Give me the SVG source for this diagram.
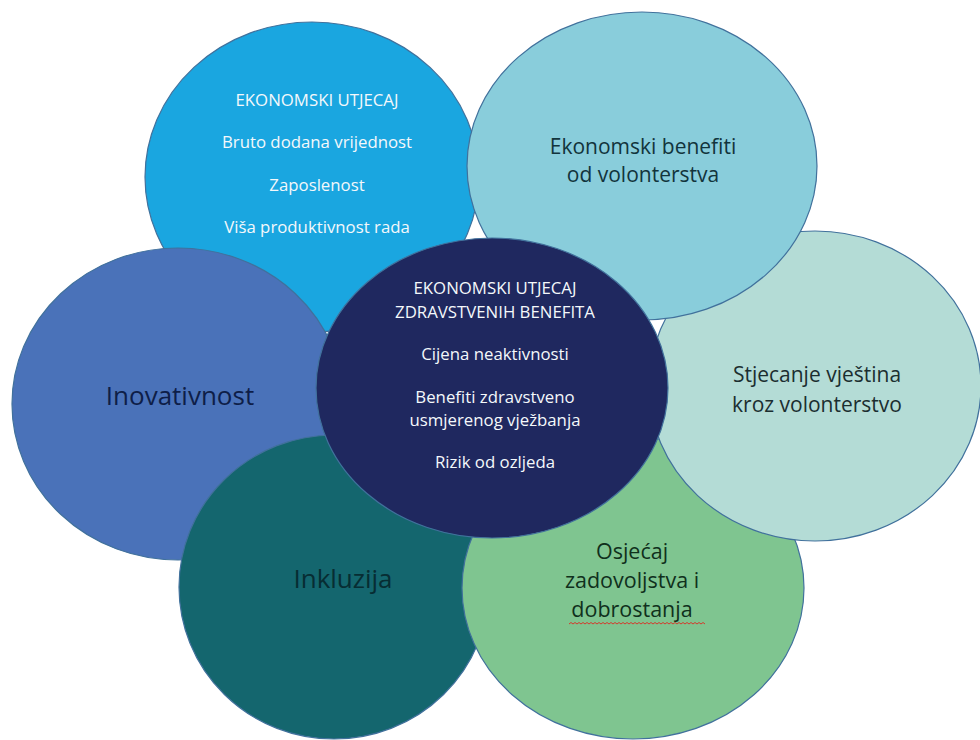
<svg xmlns="http://www.w3.org/2000/svg" width="980" height="740" viewBox="0 0 980 740">
<style>
.c{stroke:#41719C;stroke-width:1.2}
.w{font-family:"Open Sans","Noto Sans","Liberation Sans",sans-serif;font-size:16.8px;fill:#F4F8FB;text-anchor:middle}
.d{font-family:"Open Sans","Noto Sans","Liberation Sans",sans-serif;text-anchor:middle}
</style>
<rect width="980" height="740" fill="#FFFFFF"/>
<g id="ekonomski-utjecaj">
<ellipse class="c" cx="312" cy="177" rx="167" ry="155" fill="#1AA6E0"/>
<text class="w" x="317" y="106">EKONOMSKI UTJECAJ</text>
<text class="w" x="317" y="148">Bruto dodana vrijednost</text>
<text class="w" x="317" y="191">Zaposlenost</text>
<text class="w" x="317" y="233">Viša produktivnost rada</text>
</g>
<g id="inovativnost">
<ellipse class="c" cx="178" cy="404" rx="166" ry="156" fill="#4A72B9"/>
<text class="d" x="180" y="405" font-size="26" fill="#0E1E48">Inovativnost</text>
</g>
<g id="inkluzija">
<ellipse class="c" cx="334" cy="587" rx="155" ry="152" fill="#14666E"/>
<text class="d" x="343" y="588" font-size="26" fill="#072D33">Inkluzija</text>
</g>
<g id="osjecaj">
<ellipse class="c" cx="633" cy="588" rx="171" ry="151" fill="#7FC590"/>
<text class="d" x="632" y="559" font-size="21.5" fill="#10301C">Osjećaj</text>
<text class="d" x="632" y="588" font-size="21.5" fill="#10301C">zadovoljstva i</text>
<text class="d" x="632" y="617" font-size="21.5" fill="#10301C">dobrostanja</text>
<path d="M569 624 l2 -1.5 2 1.5 2 -1.5 2 1.5 2 -1.5 2 1.5 2 -1.5 2 1.5 2 -1.5 2 1.5 2 -1.5 2 1.5 2 -1.5 2 1.5 2 -1.5 2 1.5 2 -1.5 2 1.5 2 -1.5 2 1.5 2 -1.5 2 1.5 2 -1.5 2 1.5 2 -1.5 2 1.5 2 -1.5 2 1.5 2 -1.5 2 1.5 2 -1.5 2 1.5 2 -1.5 2 1.5 2 -1.5 2 1.5 2 -1.5 2 1.5 2 -1.5 2 1.5 2 -1.5 2 1.5 2 -1.5 2 1.5 2 -1.5 2 1.5 2 -1.5 2 1.5 2 -1.5 2 1.5 2 -1.5 2 1.5 2 -1.5 2 1.5 2 -1.5 2 1.5 2 -1.5 2 1.5 2 -1.5 2 1.5 2 -1.5 2 1.5 2 -1.5 2 1.5 2 -1.5 2 1.5 2 -1.5 2 1.5" fill="none" stroke="#D33A2C" stroke-width="1"/>
</g>
<g id="stjecanje">
<ellipse class="c" cx="815" cy="386" rx="166" ry="155" fill="#B4DCD6"/>
<text class="d" x="817" y="382" font-size="21" fill="#1B2E30">Stjecanje vještina</text>
<text class="d" x="817" y="412" font-size="21" fill="#1B2E30">kroz volonterstvo</text>
</g>
<g id="ekonomski-benefiti">
<ellipse class="c" cx="642" cy="166" rx="175" ry="154" fill="#89CDDB"/>
<text class="d" x="643" y="154" font-size="21" fill="#12343C">Ekonomski benefiti</text>
<text class="d" x="643" y="182" font-size="21" fill="#12343C">od volonterstva</text>
</g>
<g id="zdravstveni-benefiti">
<ellipse class="c" cx="492" cy="388" rx="176" ry="150" fill="#1F285F"/>
<text class="w" x="495" y="294">EKONOMSKI UTJECAJ</text>
<text class="w" x="495" y="318">ZDRAVSTVENIH BENEFITA</text>
<text class="w" x="495" y="360">Cijena neaktivnosti</text>
<text class="w" x="495" y="403">Benefiti zdravstveno</text>
<text class="w" x="495" y="426">usmjerenog vježbanja</text>
<text class="w" x="495" y="468">Rizik od ozljeda</text>
</g>
<g id="connectors"/>
</svg>
